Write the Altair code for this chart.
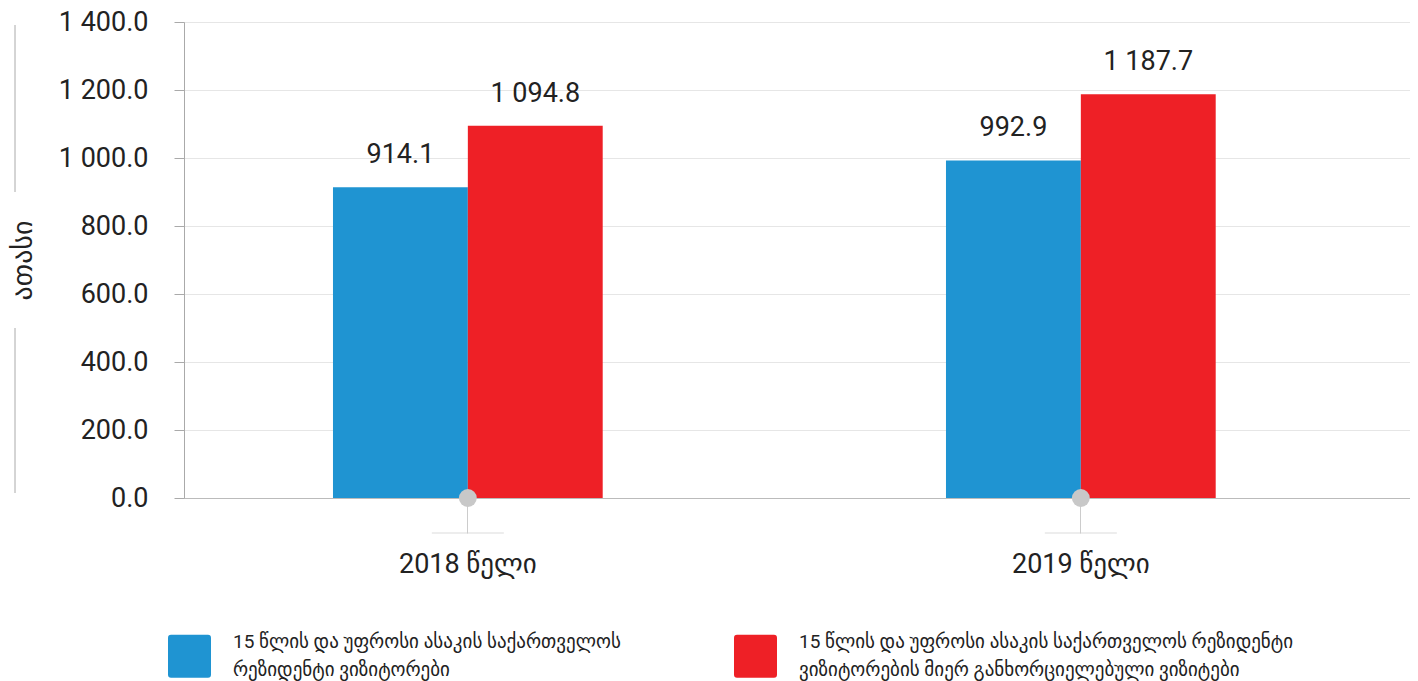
import altair as alt
import pandas as pd

years = ["2018 წელი", "2019 წელი"]
series = [
    "15 წლის და უფროსი ასაკის საქართველოს|რეზიდენტი ვიზიტორები",
    "15 წლის და უფროსი ასაკის საქართველოს რეზიდენტი|ვიზიტორების მიერ განხორციელებული ვიზიტები",
]
visitors = [914.1, 992.9]
visits = [1094.8, 1187.7]
colors = ["#1f94d2", "#ee2026"]

rows = []
for i, y in enumerate(years):
    rows.append({"year": y, "series": series[0], "value": visitors[i]})
    rows.append({"year": y, "series": series[1], "value": visits[i]})
df = pd.DataFrame(rows)
cats = pd.DataFrame({"year": years, "zero": [0, 0]})

W, H = 1226, 476
FONT = "Roboto, DejaVu Sans"

xscale = alt.Scale(domain=years, paddingInner=0.56, paddingOuter=0.28, align=0.434)
xaxis = alt.Axis(title=None, labelFontSize=27, labelColor="#222", labelFont=FONT, labelAngle=0,
                 tickSize=35, tickColor="#cccccc", domain=True, domainColor="#bbbbbb",
                 labelPadding=18, grid=False)
yaxis = alt.Axis(title="ათასი", titleFontSize=28, titleFontWeight="normal", titleColor="#222",
                 titleFont=FONT, titleAngle=-90, titleX=-161, titleY=H / 2,
                 titleBaseline="middle", titleAlign="center",
                 values=list(range(0, 1401, 200)),
                 labelExpr="replace(format(datum.value, ',.1f'), ',', ' ')",
                 labelFontSize=27, labelColor="#222", labelFont=FONT, labelPadding=26,
                 tickSize=10, tickColor="#aaaaaa", domainColor="#aaaaaa",
                 gridColor="#e6e6e6")

# rounded square symbol (unit box -1..1), shifted down so the two-line label block centres on it
SYMBOL = ("M-0.86,-0.32L0.86,-0.32Q1,-0.32 1,-0.18L1,1.54Q1,1.68 0.86,1.68"
          "L-0.86,1.68Q-1,1.68 -1,1.54L-1,-0.18Q-1,-0.32 -0.86,-0.32Z")

base = alt.Chart(df)
bars = base.mark_bar().encode(
    x=alt.X("year:N", scale=xscale, axis=xaxis, sort=years),
    xOffset=alt.XOffset("series:N", sort=series, scale=alt.Scale(paddingInner=0, paddingOuter=0)),
    y=alt.Y("value:Q", scale=alt.Scale(domain=[0, 1400], nice=False), axis=yaxis),
    color=alt.Color("series:N", sort=series, scale=alt.Scale(domain=series, range=colors),
                    legend=alt.Legend(title=None, orient="none", legendX=-16, legendY=598,
                                      direction="horizontal", columns=2, columnPadding=113,
                                      symbolType=SYMBOL, symbolSize=1849, symbolStrokeWidth=0,
                                      labelFontSize=19, labelFont=FONT, labelColor="#222",
                                      labelLimit=0, labelOffset=22, labelBaseline="middle",
                                      labelExpr="split(datum.label, '|')",
                                      padding=0, symbolOffset=0)),
)
labels = base.mark_text(fontSize=27, font=FONT, color="#222", baseline="alphabetic", dy=-24).encode(
    x=alt.X("year:N", scale=xscale, sort=years),
    xOffset=alt.XOffset("series:N", sort=series),
    y="value:Q",
    text="lab:N",
).transform_calculate(lab="replace(format(datum.value, ',.1f'), ',', ' ')")

dots = alt.Chart(cats).mark_point(filled=True, size=320, color="#c8c8c8", opacity=1).encode(
    x=alt.X("year:N", scale=xscale, sort=years),
    y=alt.Y("zero:Q"),
)
under = alt.Chart(cats).mark_tick(orient="horizontal", size=72, thickness=1, color="#cccccc").encode(
    x=alt.X("year:N", scale=xscale, sort=years),
    y=alt.value(H + 35),
)
deco = pd.DataFrame({"a": [0]})
line_top = alt.Chart(deco).mark_rule(color="#aaaaaa").encode(
    x=alt.value(-169), y=alt.value(3), y2=alt.value(170))
line_bot = alt.Chart(deco).mark_rule(color="#aaaaaa").encode(
    x=alt.value(-169), y=alt.value(306), y2=alt.value(471))

chart = alt.layer(bars, labels, dots, under, line_top, line_bot).properties(
    width=W, height=H,
    autosize=alt.AutoSizeParams(type="none"),
    padding={"left": 176, "top": 14, "right": 0, "bottom": 190},
).configure_view(stroke=None).configure(
    font=FONT, style={"guide-label": {"lineHeight": 28}}
)

chart.save("out.html", embed_options={"renderer": "svg", "actions": False})
